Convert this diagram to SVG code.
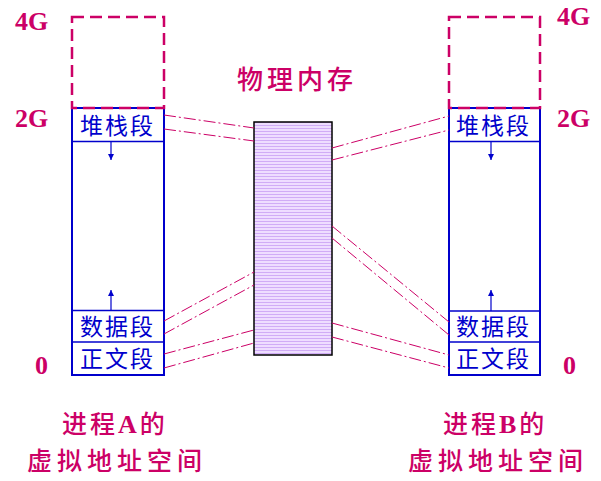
<svg xmlns="http://www.w3.org/2000/svg" width="601" height="481" viewBox="0 0 601 481">
<style>
.lbl{font-family:"Liberation Serif",serif;font-weight:bold;font-size:26px;fill:#CC0066}
.cn{font-family:"Noto Sans CJK SC",sans-serif;fill:#CC0066;font-weight:500}
.seg{font-family:"Noto Sans CJK SC",sans-serif;font-size:23px;fill:#0000CC;letter-spacing:2px}
.box{fill:#fff;stroke:#0000CC;stroke-width:2}
.div{stroke:#0000CC;stroke-width:1.5}
.dash{fill:none;stroke:#CC0066;stroke-width:2.5;stroke-dasharray:12 6}
.map{stroke:#CC0066;stroke-width:1;stroke-dasharray:12 3 2 3;fill:none}
.arr{stroke:#0000CC;stroke-width:1.2;fill:none}
</style>
<defs>
<pattern id="stripes" width="4" height="3" patternUnits="userSpaceOnUse">
<rect width="4" height="3" fill="#EEDDFF"/>
<rect y="2" width="4" height="1" fill="#D0ACF6"/>
</pattern>
<marker id="ah" viewBox="0 0 10 10" refX="10" refY="5" markerWidth="6" markerHeight="6" orient="auto" markerUnits="userSpaceOnUse">
<path d="M0,0 L10,5 L0,10 z" fill="#0000CC"/>
</marker>
</defs>

<g id="spaceA">
<rect class="box" x="72" y="108" width="92" height="267"/>
<rect class="dash" x="72" y="17" width="92" height="91"/>
<line class="div" x1="72" y1="141.5" x2="164" y2="141.5"/>
<line class="div" x1="72" y1="310.5" x2="164" y2="310.5"/>
<line class="div" x1="72" y1="342" x2="164" y2="342"/>
<text class="seg" x="80" y="134">堆栈段</text>
<text class="seg" x="80" y="335">数据段</text>
<text class="seg" x="80" y="367">正文段</text>
<line class="arr" x1="111" y1="142" x2="111" y2="160" marker-end="url(#ah)"/>
<line class="arr" x1="111" y1="310" x2="111" y2="290" marker-end="url(#ah)"/>
</g>

<g id="spaceB">
<rect class="box" x="449" y="108" width="91" height="267"/>
<rect class="dash" x="449" y="17" width="91" height="91"/>
<line class="div" x1="449" y1="141.5" x2="540" y2="141.5"/>
<line class="div" x1="449" y1="311" x2="540" y2="311"/>
<line class="div" x1="449" y1="342" x2="540" y2="342"/>
<text class="seg" x="456" y="134">堆栈段</text>
<text class="seg" x="456" y="335">数据段</text>
<text class="seg" x="456" y="367">正文段</text>
<line class="arr" x1="491" y1="142" x2="491" y2="160" marker-end="url(#ah)"/>
<line class="arr" x1="491" y1="311" x2="491" y2="290" marker-end="url(#ah)"/>
</g>

<g id="memory">
<rect x="254" y="122" width="78" height="233" fill="url(#stripes)" stroke="#000" stroke-width="1.5"/>
<text class="cn" x="237" y="89" font-size="26" letter-spacing="4">物理内存</text>
</g>

<g id="connectors">
<line class="map" x1="164" y1="115" x2="254" y2="128"/>
<line class="map" x1="164" y1="129" x2="254" y2="141"/>
<line class="map" x1="164" y1="321" x2="254" y2="272"/>
<line class="map" x1="164" y1="334" x2="254" y2="285"/>
<line class="map" x1="164" y1="354" x2="254" y2="330"/>
<line class="map" x1="164" y1="368" x2="254" y2="343"/>
<line class="map" x1="332" y1="148" x2="449" y2="116"/>
<line class="map" x1="332" y1="160" x2="449" y2="130"/>
<line class="map" x1="332" y1="226" x2="449" y2="322"/>
<line class="map" x1="332" y1="238" x2="449" y2="335"/>
<line class="map" x1="332" y1="323" x2="449" y2="355"/>
<line class="map" x1="332" y1="337" x2="449" y2="368"/>
</g>

<g id="labels">
<text class="lbl" x="15" y="30">4G</text>
<text class="lbl" x="15" y="127">2G</text>
<text class="lbl" x="35" y="374">0</text>
<text class="lbl" x="557" y="25">4G</text>
<text class="lbl" x="557" y="127">2G</text>
<text class="lbl" x="563" y="374">0</text>
<text class="cn" x="62" y="433" font-size="25" letter-spacing="3">进程<tspan font-family="Liberation Serif" font-weight="bold" font-size="26">A</tspan>的</text>
<text class="cn" x="27" y="470" font-size="25" letter-spacing="5">虚拟地址空间</text>
<text class="cn" x="443" y="433" font-size="25" letter-spacing="3">进程<tspan font-family="Liberation Serif" font-weight="bold" font-size="26">B</tspan>的</text>
<text class="cn" x="408" y="470" font-size="25" letter-spacing="5">虚拟地址空间</text>
</g>
</svg>
